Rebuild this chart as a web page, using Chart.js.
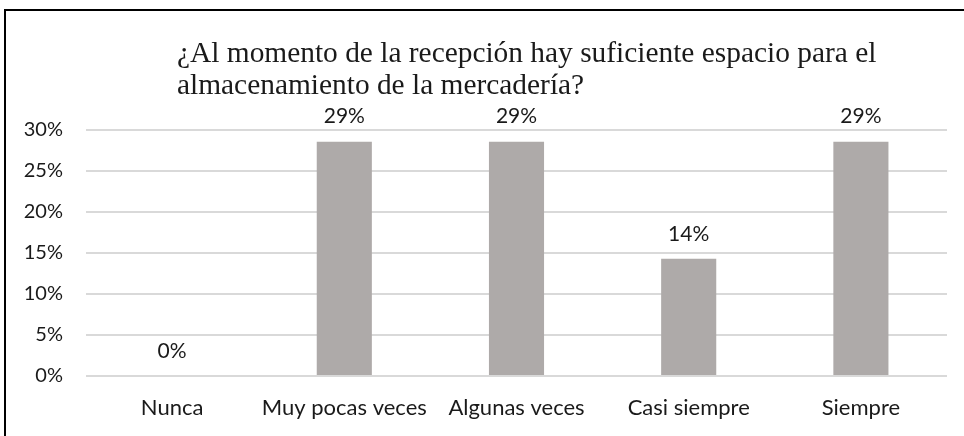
<!DOCTYPE html>
<html>
<head>
<meta charset="utf-8">
<script src="https://cdn.jsdelivr.net/npm/chart.js"></script>
<style>
  html, body { margin: 0; padding: 0; background: #fff; }
  #frame { position: absolute; left: 4px; top: 9px; width: 980px; height: 460px; border: 2px solid #000; box-sizing: border-box; }
  #wrap { position: absolute; left: 0; top: 0; width: 964px; height: 436px; }
</style>
</head>
<body>
<div id="frame"></div>
<div id="wrap"><canvas id="surveyChart" width="964" height="436"></canvas></div>
<script>
// survey answers, share of respondents (%)
const categories = ['Nunca', 'Muy pocas veces', 'Algunas veces', 'Casi siempre', 'Siempre'];
const percentages = [0, 28.57, 28.57, 14.29, 28.57];
const titleLines = [
  '¿Al momento de la recepción hay suficiente espacio para el',
  'almacenamiento de la mercadería?'
];
const yTicks = [0, 5, 10, 15, 20, 25, 30];

const textColor = '#1a1a1a';
const sansFamily = 'Lato, "Noto Sans", sans-serif';

// title drawn left-aligned like the original Excel export
const titlePlugin = {
  id: 'leftTitle',
  afterDraw(chart) {
    const ctx = chart.ctx;
    ctx.save();
    ctx.font = '29.4px "Liberation Serif", "Times New Roman", serif';
    ctx.fillStyle = textColor;
    ctx.textAlign = 'left';
    ctx.textBaseline = 'alphabetic';
    titleLines.forEach((line, i) => ctx.fillText(line, 177, 62 + i * 32));
    ctx.restore();
  }
};

// value labels above each bar
const valueLabels = {
  id: 'valueLabels',
  afterDatasetsDraw(chart) {
    const ctx = chart.ctx;
    const meta = chart.getDatasetMeta(0);
    ctx.save();
    ctx.font = '21px ' + sansFamily;
    ctx.fillStyle = textColor;
    ctx.textAlign = 'center';
    ctx.textBaseline = 'middle';
    meta.data.forEach((bar, i) => {
      ctx.fillText(Math.round(percentages[i]) + '%', bar.x, bar.y - 25);
    });
    ctx.restore();
  }
};

new Chart(document.getElementById('surveyChart'), {
  type: 'bar',
  data: {
    labels: categories,
    datasets: [{
      data: percentages,
      backgroundColor: '#aeaaa9',
      borderWidth: 0,
      barPercentage: 0.64,
      categoryPercentage: 0.5
    }]
  },
  options: {
    responsive: false,
    animation: false,
    layout: { padding: { left: 0, right: 17, top: 130, bottom: 0 } },
    plugins: {
      legend: { display: false },
      title: { display: false },
      tooltip: { enabled: false }
    },
    scales: {
      x: {
        grid: { display: false, drawTicks: false },
        border: { display: false },
        ticks: { color: textColor, font: { family: sansFamily, size: 22 }, padding: 19 },
        afterFit(scale) { scale.height = 60; }
      },
      y: {
        min: 0,
        max: 30,
        afterBuildTicks(scale) { scale.ticks = yTicks.map(v => ({ value: v })); },
        grid: { color: '#d9d9d9', lineWidth: 2, drawTicks: false },
        border: { display: false },
        ticks: {
          color: textColor,
          font: { family: sansFamily, size: 20 },
          padding: 23,
          callback: v => v + '%'
        },
        afterFit(scale) { scale.width = 86; }
      }
    }
  },
  plugins: [titlePlugin, valueLabels]
});
</script>
</body>
</html>
